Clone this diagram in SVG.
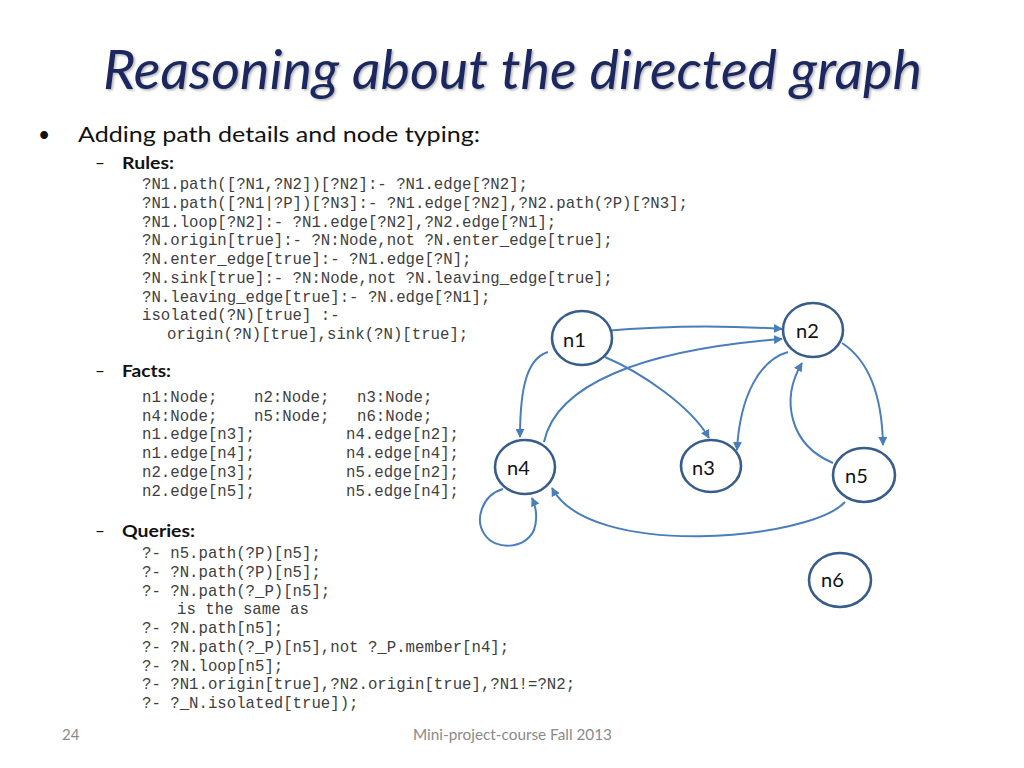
<svg xmlns="http://www.w3.org/2000/svg" width="1024" height="768" viewBox="0 0 1024 768">
<defs>
<style>
.title{font-family:Lato,"Liberation Sans",sans-serif;font-style:italic;font-size:54px;fill:#1a275f}
.body{font-family:Lato,"Liberation Sans",sans-serif;fill:#111}
.hdr{font-family:Lato,"Liberation Sans",sans-serif;font-weight:bold;font-size:17px;fill:#111}
.code{font-family:"Liberation Mono","Courier New",monospace;font-size:15.7px;fill:#404040}
.foot{font-family:Lato,"Liberation Sans",sans-serif;font-size:15px;fill:#8a8a8a}
.node ellipse{fill:#fff;stroke:#385d8a;stroke-width:2.6}
.node text{font-family:Lato,"Liberation Sans",sans-serif;font-size:20px;fill:#111}
.edge{fill:none;stroke:#4a7ebb;stroke-width:2;marker-end:url(#arr)}
</style>
<marker id="arr" viewBox="0 0 10 10" refX="9" refY="5" markerWidth="4.5" markerHeight="4.5" orient="auto" markerUnits="strokeWidth">
<path d="M0,0 L10,5 L0,10 z" fill="#4a7ebb"/>
</marker>
<filter id="sh" x="-5%" y="-20%" width="110%" height="140%">
<feDropShadow dx="1.5" dy="1.5" stdDeviation="1" flood-color="#000" flood-opacity="0.3"/>
</filter>
</defs>
<rect width="1024" height="768" fill="#fff"/>

<text class="title" x="103" y="89" textLength="819" lengthAdjust="spacingAndGlyphs" filter="url(#sh)">Reasoning about the directed graph</text>

<text class="body" x="38" y="142" font-size="21">•</text>
<text class="body" x="78" y="142" font-size="21" textLength="402" lengthAdjust="spacingAndGlyphs">Adding path details and node typing:</text>

<text class="body" x="95" y="169" font-size="17">–</text>
<text class="hdr" x="122" y="169" textLength="52" lengthAdjust="spacingAndGlyphs">Rules:</text>
<g class="code">
<text x="142" y="189">?N1.path([?N1,?N2])[?N2]:- ?N1.edge[?N2];</text>
<text x="142" y="208">?N1.path([?N1|?P])[?N3]:- ?N1.edge[?N2],?N2.path(?P)[?N3];</text>
<text x="142" y="226.5">?N1.loop[?N2]:- ?N1.edge[?N2],?N2.edge[?N1];</text>
<text x="142" y="245">?N.origin[true]:- ?N:Node,not ?N.enter_edge[true];</text>
<text x="142" y="264">?N.enter_edge[true]:- ?N1.edge[?N];</text>
<text x="142" y="283">?N.sink[true]:- ?N:Node,not ?N.leaving_edge[true];</text>
<text x="142" y="301.5">?N.leaving_edge[true]:- ?N.edge[?N1];</text>
<text x="142" y="320">isolated(?N)[true] :-</text>
<text x="167" y="339">origin(?N)[true],sink(?N)[true];</text>
</g>

<text class="body" x="95" y="377" font-size="17">–</text>
<text class="hdr" x="122" y="377" textLength="49" lengthAdjust="spacingAndGlyphs">Facts:</text>
<g class="code">
<text x="142" y="401.5">n1:Node;</text><text x="254" y="401.5">n2:Node;</text><text x="357" y="401.5">n3:Node;</text>
<text x="142" y="420.5">n4:Node;</text><text x="254" y="420.5">n5:Node;</text><text x="357" y="420.5">n6:Node;</text>
<text x="142" y="439">n1.edge[n3];</text><text x="346" y="439">n4.edge[n2];</text>
<text x="142" y="458">n1.edge[n4];</text><text x="346" y="458">n4.edge[n4];</text>
<text x="142" y="477">n2.edge[n3];</text><text x="346" y="477">n5.edge[n2];</text>
<text x="142" y="496">n2.edge[n5];</text><text x="346" y="496">n5.edge[n4];</text>
</g>

<text class="body" x="95" y="537" font-size="17">–</text>
<text class="hdr" x="122" y="537" textLength="73" lengthAdjust="spacingAndGlyphs">Queries:</text>
<g class="code">
<text x="142" y="558">?- n5.path(?P)[n5];</text>
<text x="142" y="577">?- ?N.path(?P)[n5];</text>
<text x="142" y="595.5">?- ?N.path(?_P)[n5];</text>
<text x="177" y="614">is the same as</text>
<text x="142" y="633">?- ?N.path[n5];</text>
<text x="142" y="652">?- ?N.path(?_P)[n5],not ?_P.member[n4];</text>
<text x="142" y="670.5">?- ?N.loop[n5];</text>
<text x="142" y="689">?- ?N1.origin[true],?N2.origin[true],?N1!=?N2;</text>
<text x="142" y="708">?- ?_N.isolated[true]);</text>
</g>

<g id="connectors">
<path class="edge" d="M604,331 Q693,323 782,329"/>
<path class="edge" d="M544,442 C556,385 640,350 782,339"/>
<path class="edge" d="M548,352 C528,358 520,385 520,437"/>
<path class="edge" d="M605,357 C640,372 690,405 709,438"/>
<path class="edge" d="M788,352 C760,360 740,395 737,450"/>
<path class="edge" d="M833,463 C790,445 780,400 802,363"/>
<path class="edge" d="M842,343 C868,360 882,395 883,445"/>
<path class="edge" d="M845,502 C810,540 590,560 552,488"/>
<path class="edge" d="M503,489 C482,495 474,520 485,535 C495,550 525,550 534,530 C538,518 536,507 532,498"/>
</g>

<g id="n1" class="node"><ellipse cx="582" cy="338" rx="30" ry="27"/><text x="563" y="347">n1</text></g>
<g id="n2" class="node"><ellipse cx="813" cy="330" rx="30" ry="27"/><text x="796" y="338">n2</text></g>
<g id="n4" class="node"><ellipse cx="525" cy="467" rx="30" ry="27"/><text x="507" y="475">n4</text></g>
<g id="n3" class="node"><ellipse cx="711" cy="466" rx="30" ry="26"/><text x="692" y="475">n3</text></g>
<g id="n5" class="node"><ellipse cx="864" cy="475" rx="31" ry="27"/><text x="845" y="483">n5</text></g>
<g id="n6" class="node"><ellipse cx="840" cy="580" rx="31" ry="27"/><text x="821" y="587">n6</text></g>

<text class="foot" x="62" y="740">24</text>
<text class="foot" x="413" y="740" textLength="199" lengthAdjust="spacingAndGlyphs">Mini-project-course Fall 2013</text>
</svg>
